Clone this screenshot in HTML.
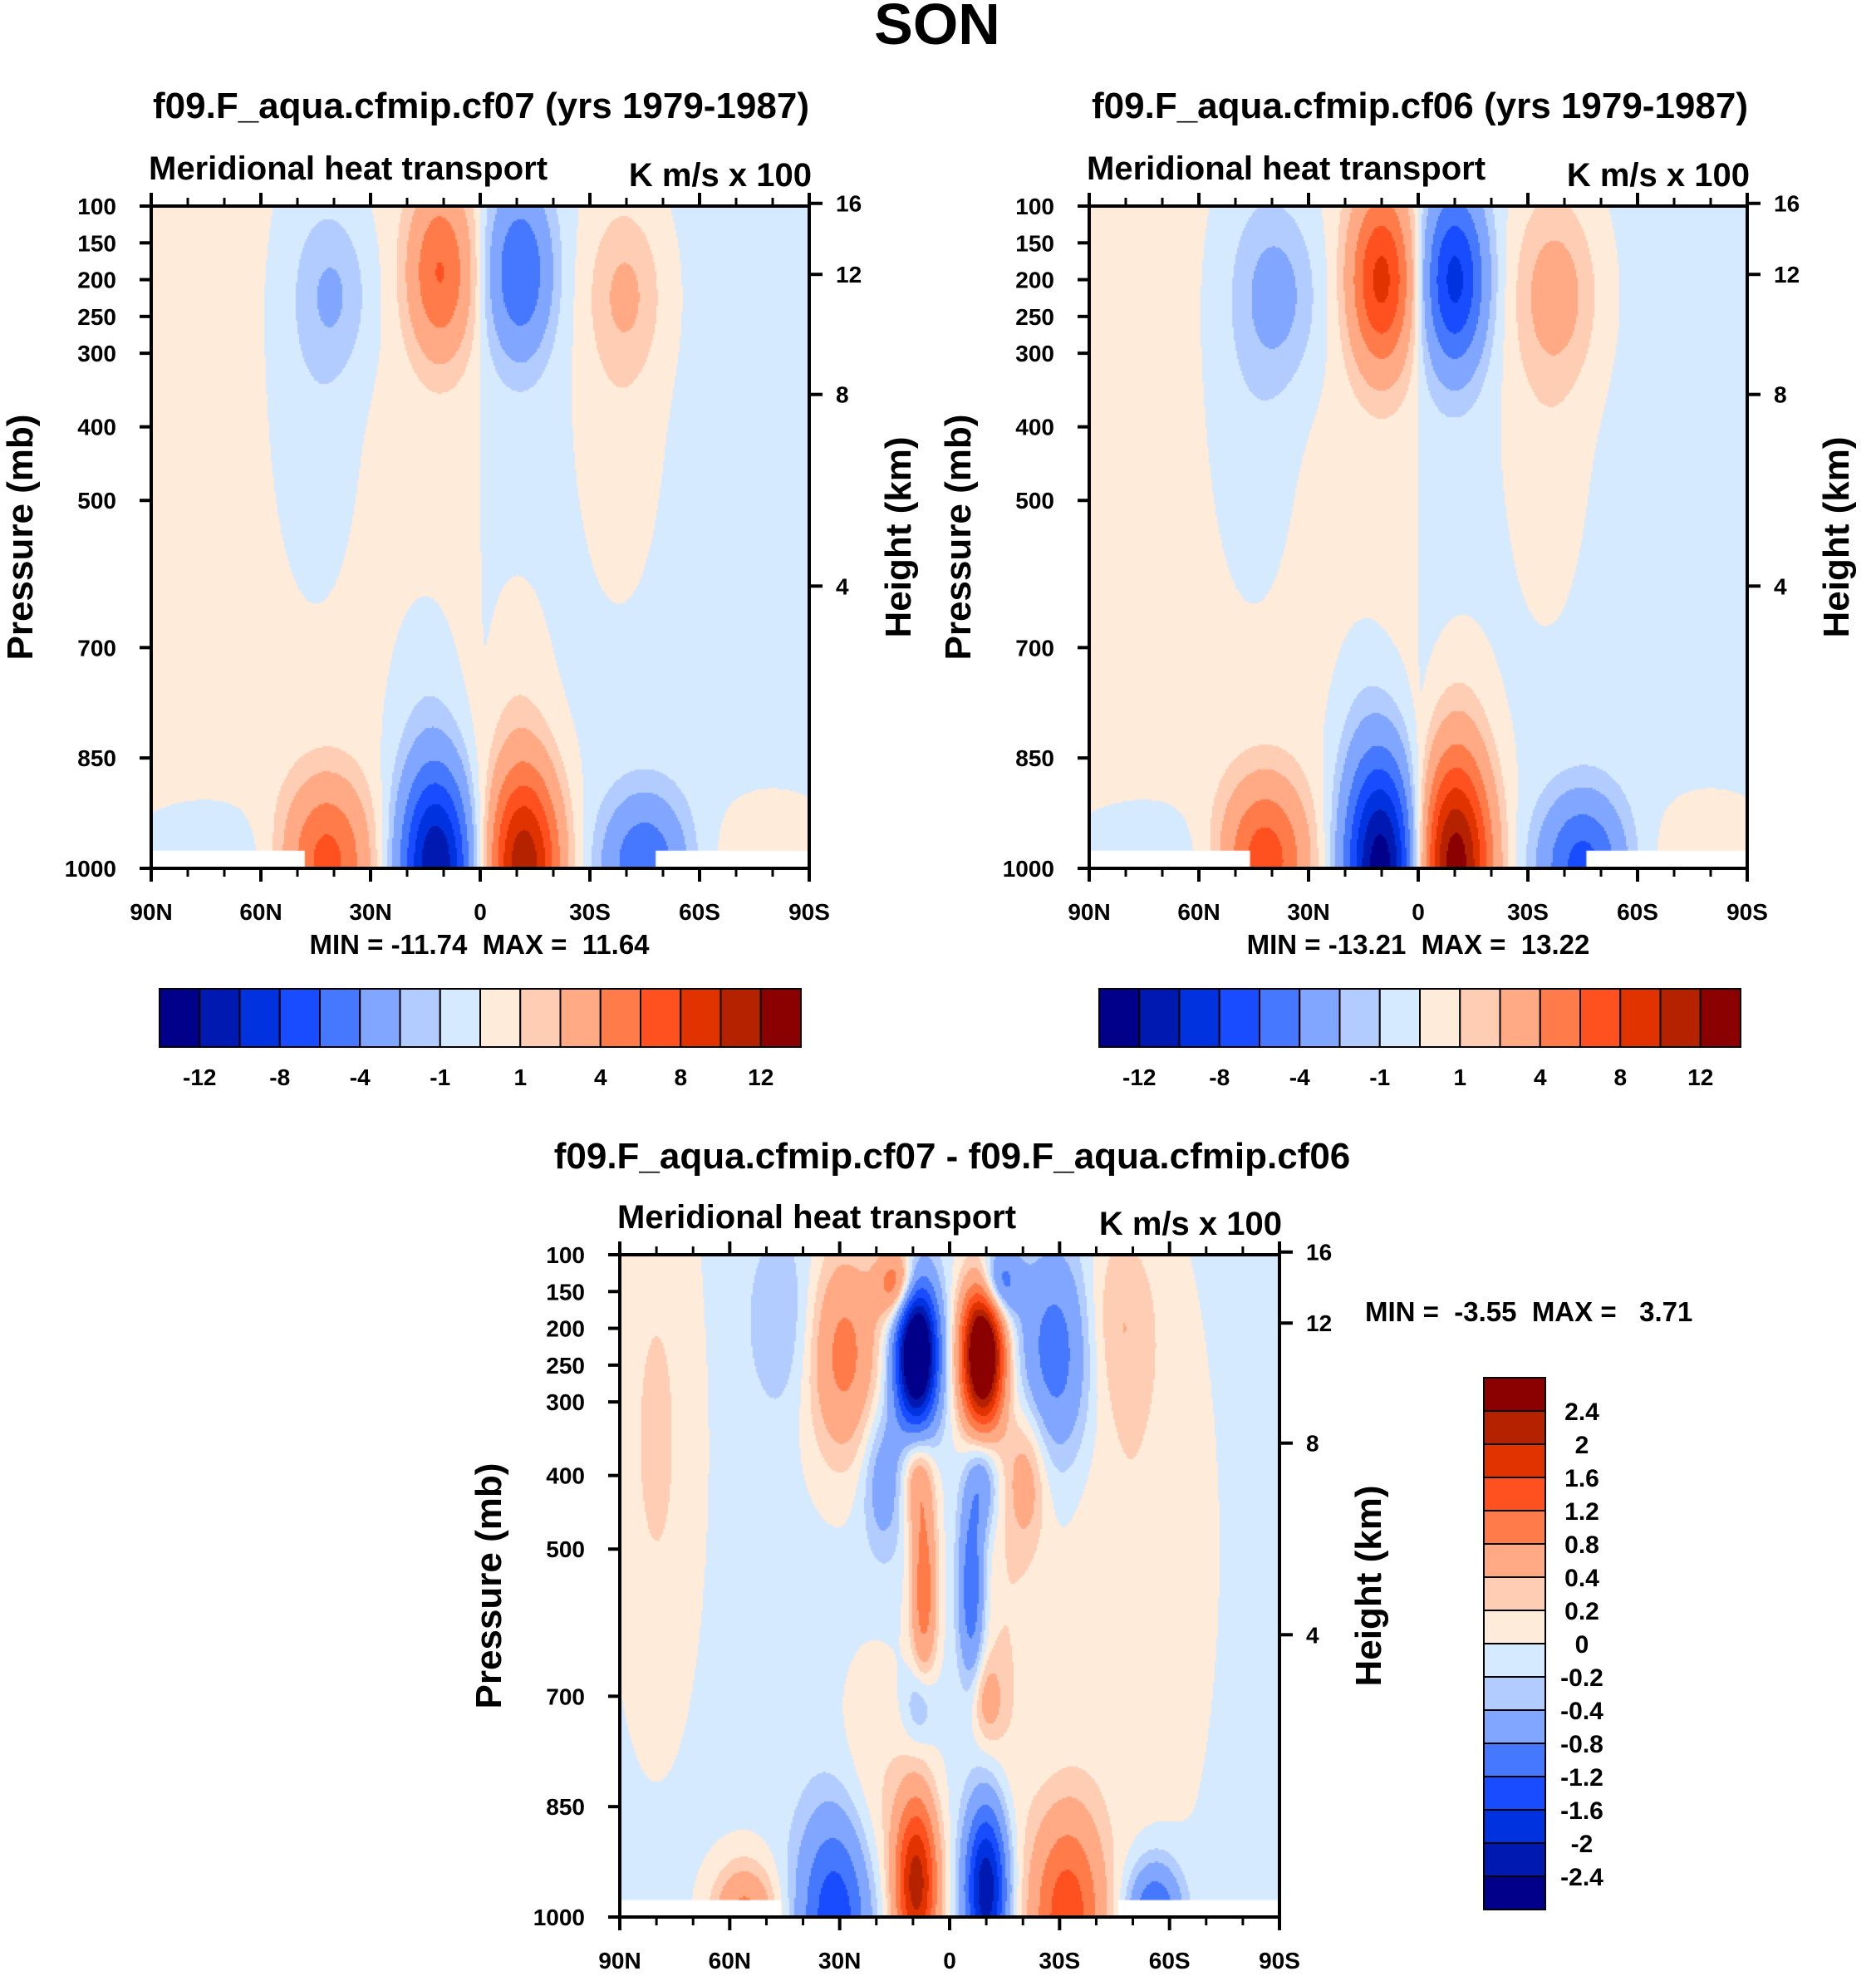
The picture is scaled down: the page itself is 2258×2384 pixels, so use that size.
<!DOCTYPE html>
<html><head><meta charset="utf-8">
<style>
html,body{margin:0;padding:0;background:#fff;}
#root{position:relative;width:2258px;height:2384px;overflow:hidden;font-family:"Liberation Sans",Arial,sans-serif;font-weight:bold;}
canvas{position:absolute;}
svg{position:absolute;left:0;top:0;}
text{white-space:pre;}
</style></head>
<body>
<div id="root">
<canvas id="c1"></canvas>
<canvas id="c2"></canvas>
<canvas id="c3"></canvas>
<svg id="ov" width="2258" height="2384"></svg>
</div>
<script>
// ---- shared scale data ----
const colors=["#00008b","#0019b0","#0033e0","#1a4cff","#4577ff","#80a6ff","#b3ccff","#d6eaff","#ffebd9","#ffcdb3","#ffaa85","#ff7b4a","#ff5020","#e03300","#b52200","#8b0000"];
const levelsTop=[-12,-10,-8,-6,-4,-2,-1,0,1,2,4,6,8,10,12];
const levelsDiff=[-2.4,-2,-1.6,-1.2,-0.8,-0.4,-0.2,0,0.2,0.4,0.8,1.2,1.6,2,2.4];
const pressureTicks=[100,150,200,250,300,400,500,700,850,1000];
const heightTicks=[16,12,8,4];
const latTicks=[90,60,30,0,-30,-60,-90];
const latTickLabels=["90N","60N","30N","0","30S","60S","90S"];

// ---- cf07 blobs ----
const c07Lat=[11,-11,40,-40,12,-12,42,-45,45,-38,15,-10,75,-80];
const c07P=[190,190,220,220,1000,1000,990,995,300,300,800,800,1000,1000];
const c07Amp=[5.8,-5.6,-1.8,1.8,-12,11.5,6.5,-5.5,-0.9,0.9,-0.8,0.8,-1.0,1.0];
const c07SLat=[6,6,7,7,7,7,8,8,9,9,7,7,16,14];
const c07SP=[80,80,75,75,95,95,75,65,230,230,120,140,60,70];
// ---- cf06 blobs ----
const c06Lat=[10,-10,38,-38,10,-10,42,-45,45,-35,15,-12,75,-80];
const c06P=[200,200,220,220,1000,1000,990,995,300,300,820,820,1000,1000];
const c06Amp=[8.3,-8.3,-2.3,2.3,-13.5,13.5,7,-6.5,-0.9,0.9,-0.7,0.7,-1.0,1.0];
const c06SLat=[6,6,8,8,7,7,8,8,9,9,6,6,16,14];
const c06SP=[85,85,85,85,105,105,75,65,230,250,110,110,60,70];
// ---- difference blobs ----
const dLat=[9,-9,29,-29,14,-13,45,-46,9,7,-9,-6,18,-21,8,-10,9,-10,31,-32,56,-56,80,-50,20,-15];
const dP=[235,235,235,235,140,140,190,190,400,555,405,555,405,400,710,705,955,960,1000,1000,1000,1000,350,500,870,650];
const dAmp=[-3.6,3.7,1.0,-1.0,1.3,-1.3,-0.35,0.35,0.7,1.1,-0.7,-1.1,-0.6,0.6,-0.5,0.5,2.2,-2.3,-1.5,1.5,1.0,-1.3,0.3,0.25,0.3,0.25];
const dSLat=[4,4,7,7,4,4,7,7,3,2.5,3,2.5,4,4,3,3,4,4,7,7,6,5,8,14,8,6];
const dSP=[70,70,100,100,35,35,90,90,50,90,50,90,70,70,40,40,80,80,100,100,50,50,260,300,140,200];

function field(lat,p,la,pp,am,sl,sp,base){
  let v=base(lat);
  for(let i=0;i<la.length;i++){
    const a=(lat-la[i])/sl[i], b=(p-pp[i])/sp[i];
    v+=am[i]*Math.exp(-0.5*(a*a+b*b));
  }
  return v;
}
function colorFor(v,lev){let k=0;while(k<lev.length&&v>=lev[k])k++;return colors[k];}

const NS="http://www.w3.org/2000/svg";
const ov=document.getElementById('ov');
function el(tag,attrs,parent){const e=document.createElementNS(NS,tag);for(const k in attrs)e.setAttribute(k,attrs[k]);(parent||ov).appendChild(e);return e;}
function txt(s,x,y,size,anchor,name,rot){
  const t=el('text',{x:x,y:y,'font-size':size,'text-anchor':anchor||'middle','font-family':'"Liberation Sans",Arial,sans-serif','font-weight':'bold',fill:'#000'});
  if(rot)t.setAttribute('transform','rotate(-90 '+x+' '+y+')');
  t.textContent=s;
  
  
  return t;
}
function hToP(h){return 1013.25*Math.pow(1-2.25577e-5*h*1000,5.25588);}

function drawPanel(cfg){
  const {cid,x0,y0,w,h,la,pp,am,sl,sp,base,lev,stripN,stripS,stripP,pre}=cfg;
  const xs=lat=>x0+(90-lat)/180*w;
  const ys=p=>y0+(p-100)/900*h;
  const cv=document.getElementById(cid);
  cv.width=w;cv.height=h;cv.style.left=x0+'px';cv.style.top=y0+'px';
  const ctx=cv.getContext('2d');
  const st=2;
  for(let py=0;py<h;py+=st){
    const p=100+(py+st/2)/h*900;
    for(let px=0;px<w;px+=st){
      const lat=90-(px+st/2)/w*180;
      ctx.fillStyle=colorFor(field(lat,p,la,pp,am,sl,sp,base),lev);
      ctx.fillRect(px,py,st,st);
    }
  }
  ctx.fillStyle="#fff";
  ctx.fillRect(0,ys(stripP)-y0,xs(stripN)-x0,h);
  ctx.fillRect(xs(stripS)-x0,ys(stripP)-y0,w,h);
  const fr=el('rect',{x:x0,y:y0,width:w,height:h,fill:'none',stroke:'#000','stroke-width':4});
  
  
  for(let lat=90;lat>=-90;lat-=10){
    const x=xs(lat),maj=(lat%30===0),L=maj?16:10;
    const t1=el('line',{x1:x,x2:x,y1:y0+h,y2:y0+h+L,stroke:'#000','stroke-width':maj?4:3});
    
    
    const t2=el('line',{x1:x,x2:x,y1:y0,y2:y0-L,stroke:'#000','stroke-width':maj?4:3});
    
    
  }
  latTicks.forEach((lat,i)=>txt(latTickLabels[i],xs(lat),y0+h+62,28,'middle',pre+'-x-tick-label'));
  pressureTicks.forEach(p=>{
    const y=ys(p);
    const t=el('line',{x1:x0-14,x2:x0,y1:y,y2:y,stroke:'#000','stroke-width':4});
    
    
    txt(String(p),x0-42,y+10,28,'end',pre+'-y-tick-label');
  });
  heightTicks.forEach(hk=>{
    const y=ys(hToP(hk));
    const t=el('line',{x1:x0+w,x2:x0+w+16,y1:y,y2:y,stroke:'#000','stroke-width':4});
    
    
    txt(String(hk),x0+w+32,y+10,28,'start',pre+'-height-tick-label');
  });
  txt("Pressure (mb)",x0-143,y0+h*0.5,44,'middle',pre+'-y-axis-title',true);
  txt("Height (km)",x0+w+122,y0+h*0.5,44,'middle',pre+'-right-axis-title',true);
  txt("Meridional heat transport",x0-3,y0-32,40,'start',pre+'-plot-title');
  txt("K m/s x 100",x0+w+3,y0-24,40,'end',pre+'-units');
}

function hColorbar(x0,y0,w,h,lev,pre){
  const bw=w/16;
  for(let i=0;i<16;i++){
    const r=el('rect',{x:x0+i*bw,y:y0,width:bw,height:h,fill:colors[i],stroke:'#000','stroke-width':2});
    
    
  }
  lev.forEach((v,i)=>{ if(i%2===0) txt(String(v),x0+(i+1)*bw,y0+h+46,28,'middle',pre+'-colorbar-label'); });
}

const baseTop=lat=>0.3*Math.tanh(lat/1.0);
const baseDiff=lat=>-0.06;

txt("SON",1128,53,70,'middle','figure-title');

drawPanel({cid:'c1',x0:182,y0:248,w:792,h:797,la:c07Lat,pp:c07P,am:c07Amp,sl:c07SLat,sp:c07SP,base:baseTop,lev:levelsTop,stripN:48,stripS:-48,stripP:976,pre:'cf07'});
txt("f09.F_aqua.cfmip.cf07 (yrs 1979-1987)",579,142,44,'middle','cf07-title');
txt("MIN = -11.74  MAX =  11.64",577,1148,33,'middle','cf07-min-max');
hColorbar(192,1190,772,70,levelsTop,'cf07');

drawPanel({cid:'c2',x0:1311,y0:248,w:792,h:797,la:c06Lat,pp:c06P,am:c06Amp,sl:c06SLat,sp:c06SP,base:baseTop,lev:levelsTop,stripN:46,stripS:-46,stripP:976,pre:'cf06'});
txt("f09.F_aqua.cfmip.cf06 (yrs 1979-1987)",1709,142,44,'middle','cf06-title');
txt("MIN = -13.21  MAX =  13.22",1707,1148,33,'middle','cf06-min-max');
hColorbar(1323,1190,772,70,levelsTop,'cf06');

drawPanel({cid:'c3',x0:746,y0:1510,w:794,h:797,la:dLat,pp:dP,am:dAmp,sl:dSLat,sp:dSP,base:baseDiff,lev:levelsDiff,stripN:46,stripS:-46,stripP:977,pre:'diff'});
txt("f09.F_aqua.cfmip.cf07 - f09.F_aqua.cfmip.cf06",1146,1406,44,'middle','diff-title');
txt("MIN =  -3.55  MAX =   3.71",1643,1590,33,'start','diff-min-max');
(function(){
  const x0=1786,y0=1658,w=74,bh=40;
  for(let i=0;i<16;i++){
    const r=el('rect',{x:x0,y:y0+i*bh,width:w,height:bh,fill:colors[15-i],stroke:'#000','stroke-width':2});
    
    
  }
  for(let i=0;i<15;i++){
    const v=levelsDiff[14-i];
    txt(String(v),1904,y0+(i+1)*bh+11,30,'middle','diff-colorbar-label');
  }
})();
</script>
</body></html>
